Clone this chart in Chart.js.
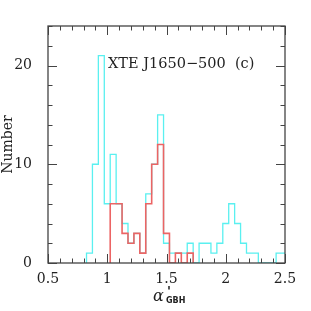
<!DOCTYPE html>
<html>
<head>
<meta charset="utf-8">
<script src="https://cdn.jsdelivr.net/npm/chart.js@4.4.1/dist/chart.umd.min.js"></script>
<style>
  html, body { margin: 0; padding: 0; background: #fff; }
  #wrap { width: 311px; height: 311px; position: relative; }
</style>
</head>
<body>
<div id="wrap"><canvas id="myChart"></canvas></div>
<script>
'use strict';

// histogram bins (centres), width 0.05
let binWidth = 0.05;

let cyanBins = [0.85, 0.90, 0.95, 1.00, 1.05, 1.10, 1.15, 1.20, 1.25, 1.30,
  1.35, 1.40, 1.45, 1.50, 1.55, 1.60, 1.65, 1.70, 1.75, 1.80,
  1.85, 1.90, 1.95, 2.00, 2.05, 2.10, 2.15, 2.20, 2.25, 2.30,
  2.35, 2.40, 2.45, 2.50];
let cyanCounts = [1, 10, 21, 6, 11, 6, 4, 2, 3, 1,
  7, 10, 15, 2, 1, 1, 1, 2, 0, 2,
  2, 1, 2, 4, 6, 4, 2, 1, 1, 0,
  0, 0, 1, 1];

let redBins = [1.05, 1.10, 1.15, 1.20, 1.25, 1.30, 1.35, 1.40, 1.45, 1.50,
  1.55, 1.60, 1.65, 1.70];
let redCounts = [6, 6, 3, 2, 3, 1, 6, 10, 12, 3, 0, 1, 0, 1];

let xTickValues = [0.5, 1, 1.5, 2, 2.5];
let yTickValues = [0, 10, 20];
let xRange = [0.5, 2.5];
let yRange = [0, 24];

let labelText = 'XTE J1650\u2212500  (c)';
let yTitle = 'Number';

let serif = '"DejaVu Serif", "Liberation Serif", serif';

// turn bins + counts into the corner points of a step outline
function outline(bins, counts) {
  let half = binWidth / 2;
  let pts = [{ x: bins[0] - half, y: 0 }];
  for (let i = 0; i < bins.length; i++) {
    pts.push({ x: bins[i] - half, y: counts[i] });
    pts.push({ x: bins[i] + half, y: counts[i] });
  }
  pts.push({ x: bins[bins.length - 1] + half, y: 0 });
  return pts;
}

// box frame with inward ticks on all four sides
const frameTicks = {
  id: 'frameTicks',
  afterDatasetsDraw(chart) {
    let ctx = chart.ctx;
    let a = chart.chartArea;
    let x = chart.scales.x;
    let y = chart.scales.y;
    ctx.save();
    ctx.strokeStyle = '#444';
    ctx.lineWidth = 1;
    ctx.beginPath();
    for (let i = 5; i <= 25; i++) {
      let px = Math.round(x.getPixelForValue(i / 10)) + 0.5;
      let len = (i % 5 === 0) ? 9 : 4.5;
      ctx.moveTo(px, a.bottom);
      ctx.lineTo(px, a.bottom - len);
      ctx.moveTo(px, a.top);
      ctx.lineTo(px, a.top + len);
    }
    for (let v = 0; v <= 24; v += 2) {
      let py = Math.round(y.getPixelForValue(v)) + 0.5;
      let len = (v % 10 === 0) ? 9 : 4.5;
      ctx.moveTo(a.left, py);
      ctx.lineTo(a.left + len, py);
      ctx.moveTo(a.right, py);
      ctx.lineTo(a.right - len, py);
    }
    ctx.stroke();
    ctx.lineWidth = 1.3;
    ctx.strokeRect(a.left, a.top, a.right - a.left, a.bottom - a.top);

    // label inside the plot
    ctx.fillStyle = '#222';
    ctx.font = '14.5px ' + serif;
    ctx.textBaseline = 'alphabetic';
    ctx.fillText(labelText, 108, 68);

    // x axis title: alpha prime with subscript GBH
    ctx.font = 'italic 16px ' + serif;
    ctx.fillText('\u03b1', 153, 301);
    ctx.font = 'bold 13px ' + serif;
    ctx.fillText("'", 167, 296);
    ctx.font = 'bold 8px "DejaVu Sans", sans-serif';
    ctx.fillText('GBH', 166, 303);
    ctx.restore();
  }
};

let config = {
  type: 'scatter',
  data: {
    datasets: [{
      label: 'red',
      data: outline(redBins, redCounts),
      showLine: true,
      borderColor: 'rgb(236, 100, 100)',
      borderWidth: 1.6,
      pointRadius: 0,
      fill: false,
      order: 0
    },
    {
      label: 'cyan',
      data: outline(cyanBins, cyanCounts),
      showLine: true,
      borderColor: 'rgb(90, 240, 240)',
      borderWidth: 1.3,
      pointRadius: 0,
      fill: false,
      order: 1
    }]
  },
  plugins: [frameTicks],
  options: {
    responsive: true,
    maintainAspectRatio: false,
    animation: false,
    layout: { padding: { top: 26, right: 26, left: 0, bottom: 0 } },
    plugins: {
      legend: { display: false },
      tooltip: { enabled: false }
    },
    scales: {
      x: {
        type: 'linear',
        min: xRange[0],
        max: xRange[1],
        grid: { display: false, drawTicks: false },
        border: { display: false },
        afterBuildTicks: function (scale) {
          scale.ticks = xTickValues.map(v => ({ value: v }));
        },
        afterFit: function (scale) { scale.height = 48; },
        ticks: {
          color: '#222',
          padding: 8,
          maxRotation: 0,
          font: { family: serif, size: 14 },
          callback: v => String(v)
        }
      },
      y: {
        type: 'linear',
        min: yRange[0],
        max: yRange[1],
        grid: { display: false },
        border: { display: false },
        afterBuildTicks: function (scale) {
          scale.ticks = yTickValues.map(v => ({ value: v }));
        },
        afterFit: function (scale) { scale.width = 48; },
        title: {
          display: true,
          text: yTitle,
          color: '#222',
          padding: 0,
          font: { family: serif, size: 14 }
        },
        ticks: {
          color: '#222',
          padding: 8,
          font: { family: serif, size: 14 },
          callback: v => String(v)
        }
      }
    }
  }
};

const ctx = document.getElementById('myChart').getContext('2d');
const myChart = new Chart(ctx, config);
</script>
</body>
</html>
